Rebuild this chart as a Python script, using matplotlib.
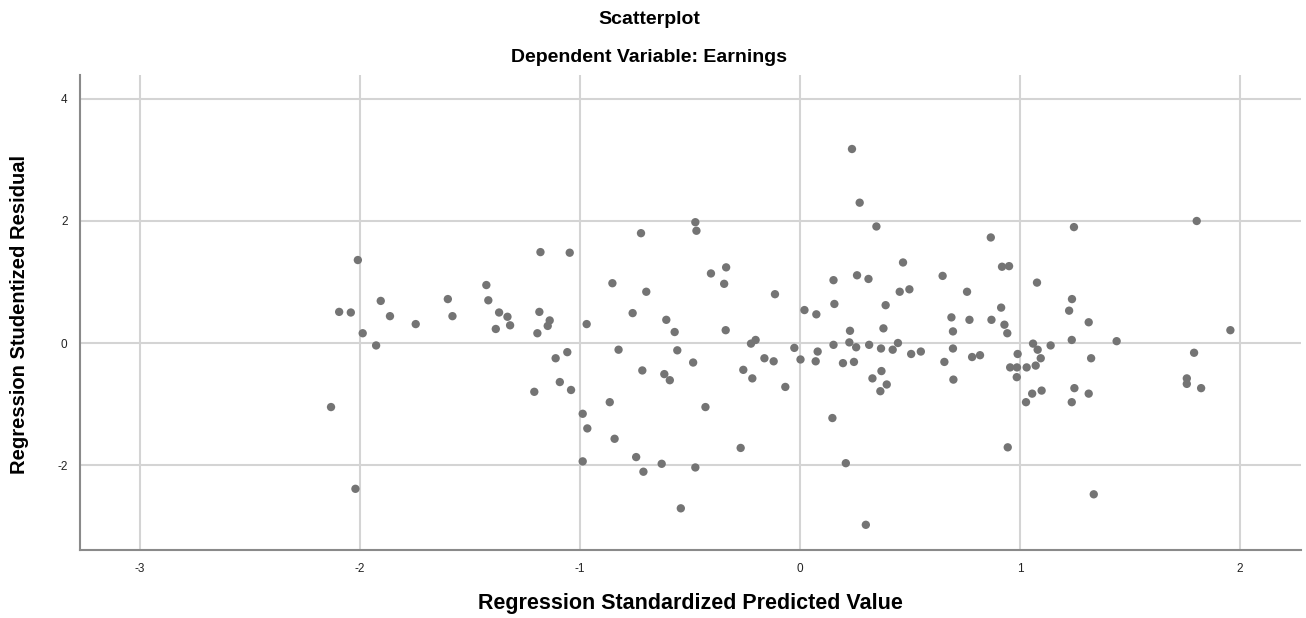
import matplotlib
matplotlib.use("Agg")
import matplotlib.pyplot as plt

plt.rcParams['font.family'] = ['Liberation Sans', 'DejaVu Sans']
plt.rcParams['axes.unicode_minus'] = False

# standardized predicted value / studentized residual
pred = [-2.010, -1.180, -1.047, -0.853, -1.426, -1.906, -1.601, -1.417, -2.095, -2.042,
        -1.864, -1.580, -1.368, -1.330, -1.185, -1.138, -1.747, -1.383, -1.318, -1.147,
        -1.194, -0.970, -1.988, -1.927, -0.825, -1.111, -1.058, -1.092, -1.041, -1.208,
        -2.132, -0.865, -0.988, -0.967, -0.843, -0.988, -2.021,
        0.236, 0.271, 0.347, -0.476, -0.471, -0.723, 0.468, -0.336, -0.405, -0.345,
        0.259, 0.311, 0.152, -0.699, -0.114, 0.453, 0.497, 0.156, 0.389, 0.020,
        0.074, -0.761, -0.608, -0.570, -0.338, 0.227, 0.379, -0.202, -0.223, -0.026,
        0.152, 0.224, 0.255, 0.314, 0.368, 0.421, 0.445, 0.505, 0.549, -0.558,
        0.080, 0.002, 0.071, -0.486, -0.162, -0.120, 0.195, 0.245, -0.717, -0.617,
        -0.592, -0.258, -0.217, -0.067, 0.370, 0.329, 0.394, 0.365, -0.430, 0.147,
        -0.270, -0.745, -0.712, -0.629, -0.476, 0.208, -0.542, 0.299,
        1.803, 1.245, 0.867, 0.918, 0.950, 0.648, 1.077, 0.759, 1.236, 0.914,
        1.223, 0.688, 0.770, 0.870, 1.312, 0.929, 0.695, 0.942, 1.956, 1.235,
        1.439, 1.059, 1.139, 1.080, 0.989, 1.094, 0.695, 0.782, 0.818, 0.656,
        1.323, 1.791, 0.955, 0.986, 1.030, 1.071, 0.985, 0.697, 1.247, 1.312,
        1.055, 1.098, 1.027, 1.235, 1.758, 1.758, 1.823, 0.944, 1.335]
resid = [1.36, 1.49, 1.48, 0.98, 0.95, 0.69, 0.72, 0.70, 0.51, 0.50,
         0.44, 0.44, 0.50, 0.43, 0.51, 0.37, 0.31, 0.23, 0.29, 0.28,
         0.16, 0.31, 0.16, -0.04, -0.11, -0.25, -0.15, -0.64, -0.77, -0.80,
         -1.05, -0.97, -1.16, -1.40, -1.57, -1.94, -2.39,
         3.18, 2.30, 1.91, 1.98, 1.84, 1.80, 1.32, 1.24, 1.14, 0.97,
         1.11, 1.05, 1.03, 0.84, 0.80, 0.84, 0.88, 0.64, 0.62, 0.54,
         0.47, 0.49, 0.38, 0.18, 0.21, 0.20, 0.24, 0.05, -0.01, -0.08,
         -0.03, 0.01, -0.07, -0.03, -0.09, -0.11, 0.00, -0.18, -0.14, -0.12,
         -0.14, -0.27, -0.30, -0.32, -0.25, -0.30, -0.33, -0.31, -0.45, -0.51,
         -0.61, -0.44, -0.58, -0.72, -0.46, -0.58, -0.68, -0.79, -1.05, -1.23,
         -1.72, -1.87, -2.11, -1.98, -2.04, -1.97, -2.71, -2.98,
         2.00, 1.90, 1.73, 1.25, 1.26, 1.10, 0.99, 0.84, 0.72, 0.58,
         0.53, 0.42, 0.38, 0.38, 0.34, 0.30, 0.19, 0.16, 0.21, 0.05,
         0.03, -0.01, -0.04, -0.11, -0.18, -0.25, -0.09, -0.23, -0.20, -0.31,
         -0.25, -0.16, -0.40, -0.40, -0.40, -0.37, -0.56, -0.60, -0.74, -0.83,
         -0.83, -0.78, -0.97, -0.97, -0.58, -0.67, -0.74, -1.71, -2.48]

x_ticks = [-3, -2, -1, 0, 1, 2]
y_ticks = [-2, 0, 2, 4]

fig = plt.figure(figsize=(13.06, 6.18), dpi=100)
ax = fig.add_axes([80/1306, 1 - 550/618, 1221/1306, 475/618])

ax.scatter(pred, resid, s=36, color='#747474', edgecolors='none', zorder=3)

ax.set_xlim(-3.273, 2.277)
ax.set_ylim(-3.393, 4.393)
ax.set_xticks(x_ticks)
ax.set_yticks(y_ticks)
ax.grid(True, color='#d4d4d4', linewidth=1.5)
ax.set_axisbelow(True)
ax.tick_params(length=0, labelsize=8.5, colors='#222222', pad=9)

for side in ['top', 'right']:
    ax.spines[side].set_visible(False)
for side in ['left', 'bottom']:
    ax.spines[side].set_color('#8a8a8a')
    ax.spines[side].set_linewidth(1.5)

fig.text(0.497, 1 - 20/618, 'Scatterplot', ha='center', va='center',
         fontsize=14, fontweight='bold')
fig.text(0.497, 1 - 58/618, 'Dependent Variable: Earnings', ha='center', va='center',
         fontsize=14, fontweight='bold')
fig.text(690/1306, 1 - 604/618, 'Regression Standardized Predicted Value',
         ha='center', va='center', fontsize=15.5, fontweight='bold')
fig.text(20/1306, 1 - 314/618, 'Regression Studentized Residual', rotation=90,
         ha='center', va='center', fontsize=14.5, fontweight='bold')

fig.savefig('out.png', dpi=100)
